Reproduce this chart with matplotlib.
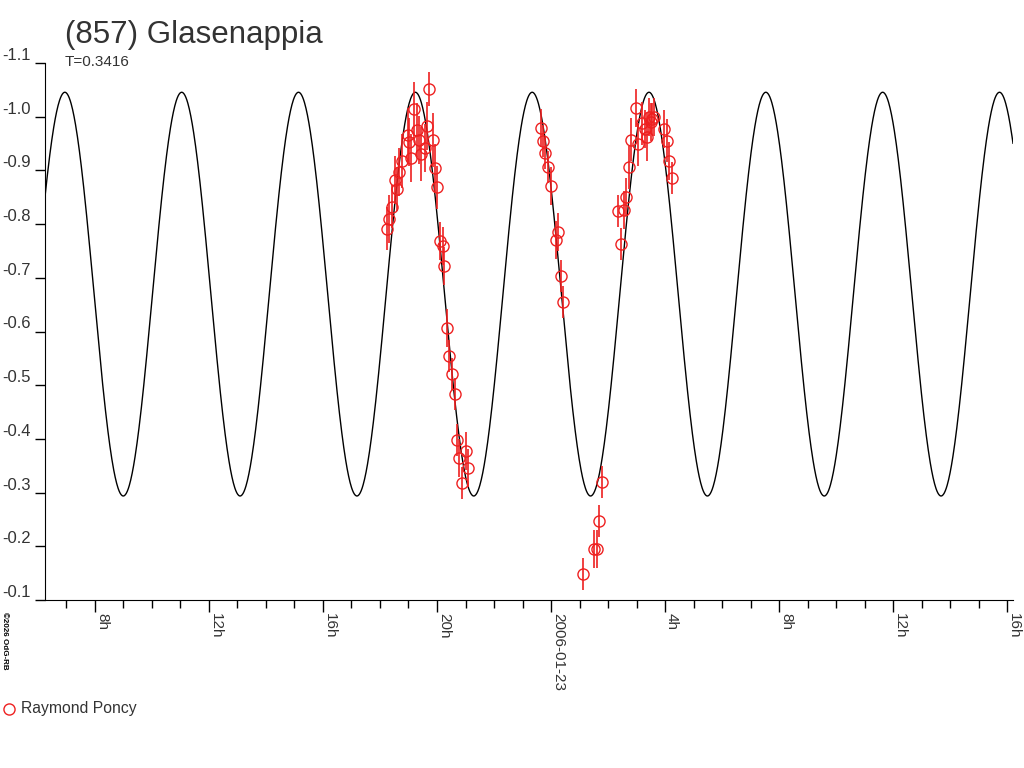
import numpy as np
import matplotlib
matplotlib.use("Agg")
import matplotlib.pyplot as plt
from matplotlib.lines import Line2D

plt.rcParams['font.family'] = ['Liberation Sans', 'DejaVu Sans']

# observation times in hours since 2006-01-22 0h UT, relative magnitudes, errors
obs_hours = [18.25, 18.32, 18.42, 18.53, 18.60, 18.67, 18.77, 18.98, 19.02, 19.09,
             19.19, 19.30, 19.37, 19.44, 19.58, 19.65, 19.72, 19.86, 19.93, 20.00,
             20.11, 20.21, 20.25, 20.35, 20.42, 20.53, 20.63, 20.70, 20.77, 21.02,
             21.09, 20.88,
             23.65, 23.72, 23.79, 23.89, 24.00, 24.18, 24.25, 24.35, 24.42,
             25.12, 25.51, 25.61, 25.68, 25.79,
             26.35, 26.46, 26.56, 26.63, 26.74, 26.81, 26.98, 27.05, 27.19, 27.30,
             27.37, 27.44, 27.51, 27.54, 27.61, 27.96, 28.07, 28.14, 28.25]
obs_mag = [-0.791, -0.810, -0.832, -0.882, -0.865, -0.897, -0.918, -0.966, -0.953, -0.923,
           -1.014, -0.975, -0.957, -0.931, -0.942, -0.983, -1.052, -0.957, -0.904, -0.869,
           -0.769, -0.759, -0.722, -0.607, -0.554, -0.521, -0.484, -0.398, -0.364, -0.378,
           -0.346, -0.318,
           -0.979, -0.955, -0.932, -0.906, -0.871, -0.770, -0.785, -0.703, -0.655,
           -0.148, -0.195, -0.195, -0.247, -0.320,
           -0.824, -0.763, -0.826, -0.850, -0.906, -0.957, -1.016, -0.949, -0.988, -0.977,
           -0.962, -0.999, -0.990, -0.996, -0.999, -0.977, -0.955, -0.918, -0.886]
obs_err = [0.040, 0.045, 0.040, 0.045, 0.040, 0.045, 0.050, 0.050, 0.045, 0.045,
           0.050, 0.050, 0.045, 0.050, 0.045, 0.045, 0.032, 0.050, 0.045, 0.040,
           0.035, 0.035, 0.035, 0.035, 0.030, 0.030, 0.030, 0.030, 0.035, 0.035,
           0.035, 0.030,
           0.035, 0.030, 0.030, 0.030, 0.035, 0.035, 0.035, 0.030, 0.030,
           0.030, 0.035, 0.035, 0.030, 0.030,
           0.030, 0.030, 0.035, 0.035, 0.040, 0.040, 0.035, 0.040, 0.040, 0.035,
           0.045, 0.035, 0.035, 0.030, 0.035, 0.035, 0.040, 0.035, 0.030]

period_days = 0.3416
fit_mean = -0.6696
fit_amp = 0.3759
fit_t0 = 19.24  # hours, time of a maximum

x_min, x_max = 6.246, 40.21
tick_hours = [8, 12, 16, 20, 24, 28, 32, 36, 40]
tick_labels = ['8h', '12h', '16h', '20h', '2006-01-23', '4h', '8h', '12h', '16h']
y_ticks = [-1.1, -1.0, -0.9, -0.8, -0.7, -0.6, -0.5, -0.4, -0.3, -0.2, -0.1]

red = '#ee2020'
txt = '#333333'

fig = plt.figure(figsize=(10.24, 7.68), dpi=100)
ax = fig.add_axes([45 / 1024, 168 / 768, 968 / 1024, 537 / 768])

t = np.linspace(x_min, x_max, 2000)
half_p = period_days * 24 / 2
curve = fit_mean - fit_amp * np.cos(2 * np.pi * (t - fit_t0) / half_p)
ax.plot(t, curve, color='black', lw=1)

ax.errorbar(obs_hours, obs_mag, yerr=obs_err, fmt='o', ms=8, mfc='none', mec=red,
            mew=1, ecolor=red, elinewidth=1.2, capsize=0, zorder=3)

ax.set_xlim(x_min, x_max)
ax.set_ylim(-0.1, -1.1)

ax.spines['top'].set_visible(False)
ax.spines['right'].set_visible(False)

ax.set_xticks(tick_hours)
ax.set_xticklabels(tick_labels, rotation=-90, ha='left', va='top')
ax.set_xticks(np.arange(7, 41, 1), minor=True)
ax.tick_params(axis='x', which='major', direction='out', length=8.6, width=1,
               pad=1, labelsize=11, labelcolor=txt)
ax.tick_params(axis='x', which='minor', direction='out', length=5.8, width=1)

ax.set_yticks(y_ticks)
ax.set_yticklabels(['%.1f' % v for v in y_ticks])
ax.tick_params(axis='y', direction='out', length=7.2, width=1, pad=3,
               labelsize=12, labelcolor=txt)
for lab in ax.get_yticklabels():
    lab.set_verticalalignment('bottom')

fig.text(65 / 1024, 1 - 43 / 768, '(857) Glasenappia', fontsize=22.5, color=txt,
         va='baseline', ha='left')
fig.text(65 / 1024, 1 - 66.5 / 768, 'T=0.3416', fontsize=11, color=txt,
         va='baseline', ha='left')
fig.text(1 / 1024, 1 - 612 / 768, '\u00a92026 OdG-RB', fontsize=5.8, color='black',
         rotation=-90, ha='left', va='top', fontweight='bold')

fig.add_artist(Line2D([9 / 1024], [1 - 709 / 768], marker='o', ms=8, mfc='none',
                      mec=red, mew=1, transform=fig.transFigure))
fig.text(21 / 1024, 1 - 709 / 768, 'Raymond Poncy', fontsize=11.3, color=txt,
         va='center', ha='left')

fig.savefig('out.png', dpi=100)
